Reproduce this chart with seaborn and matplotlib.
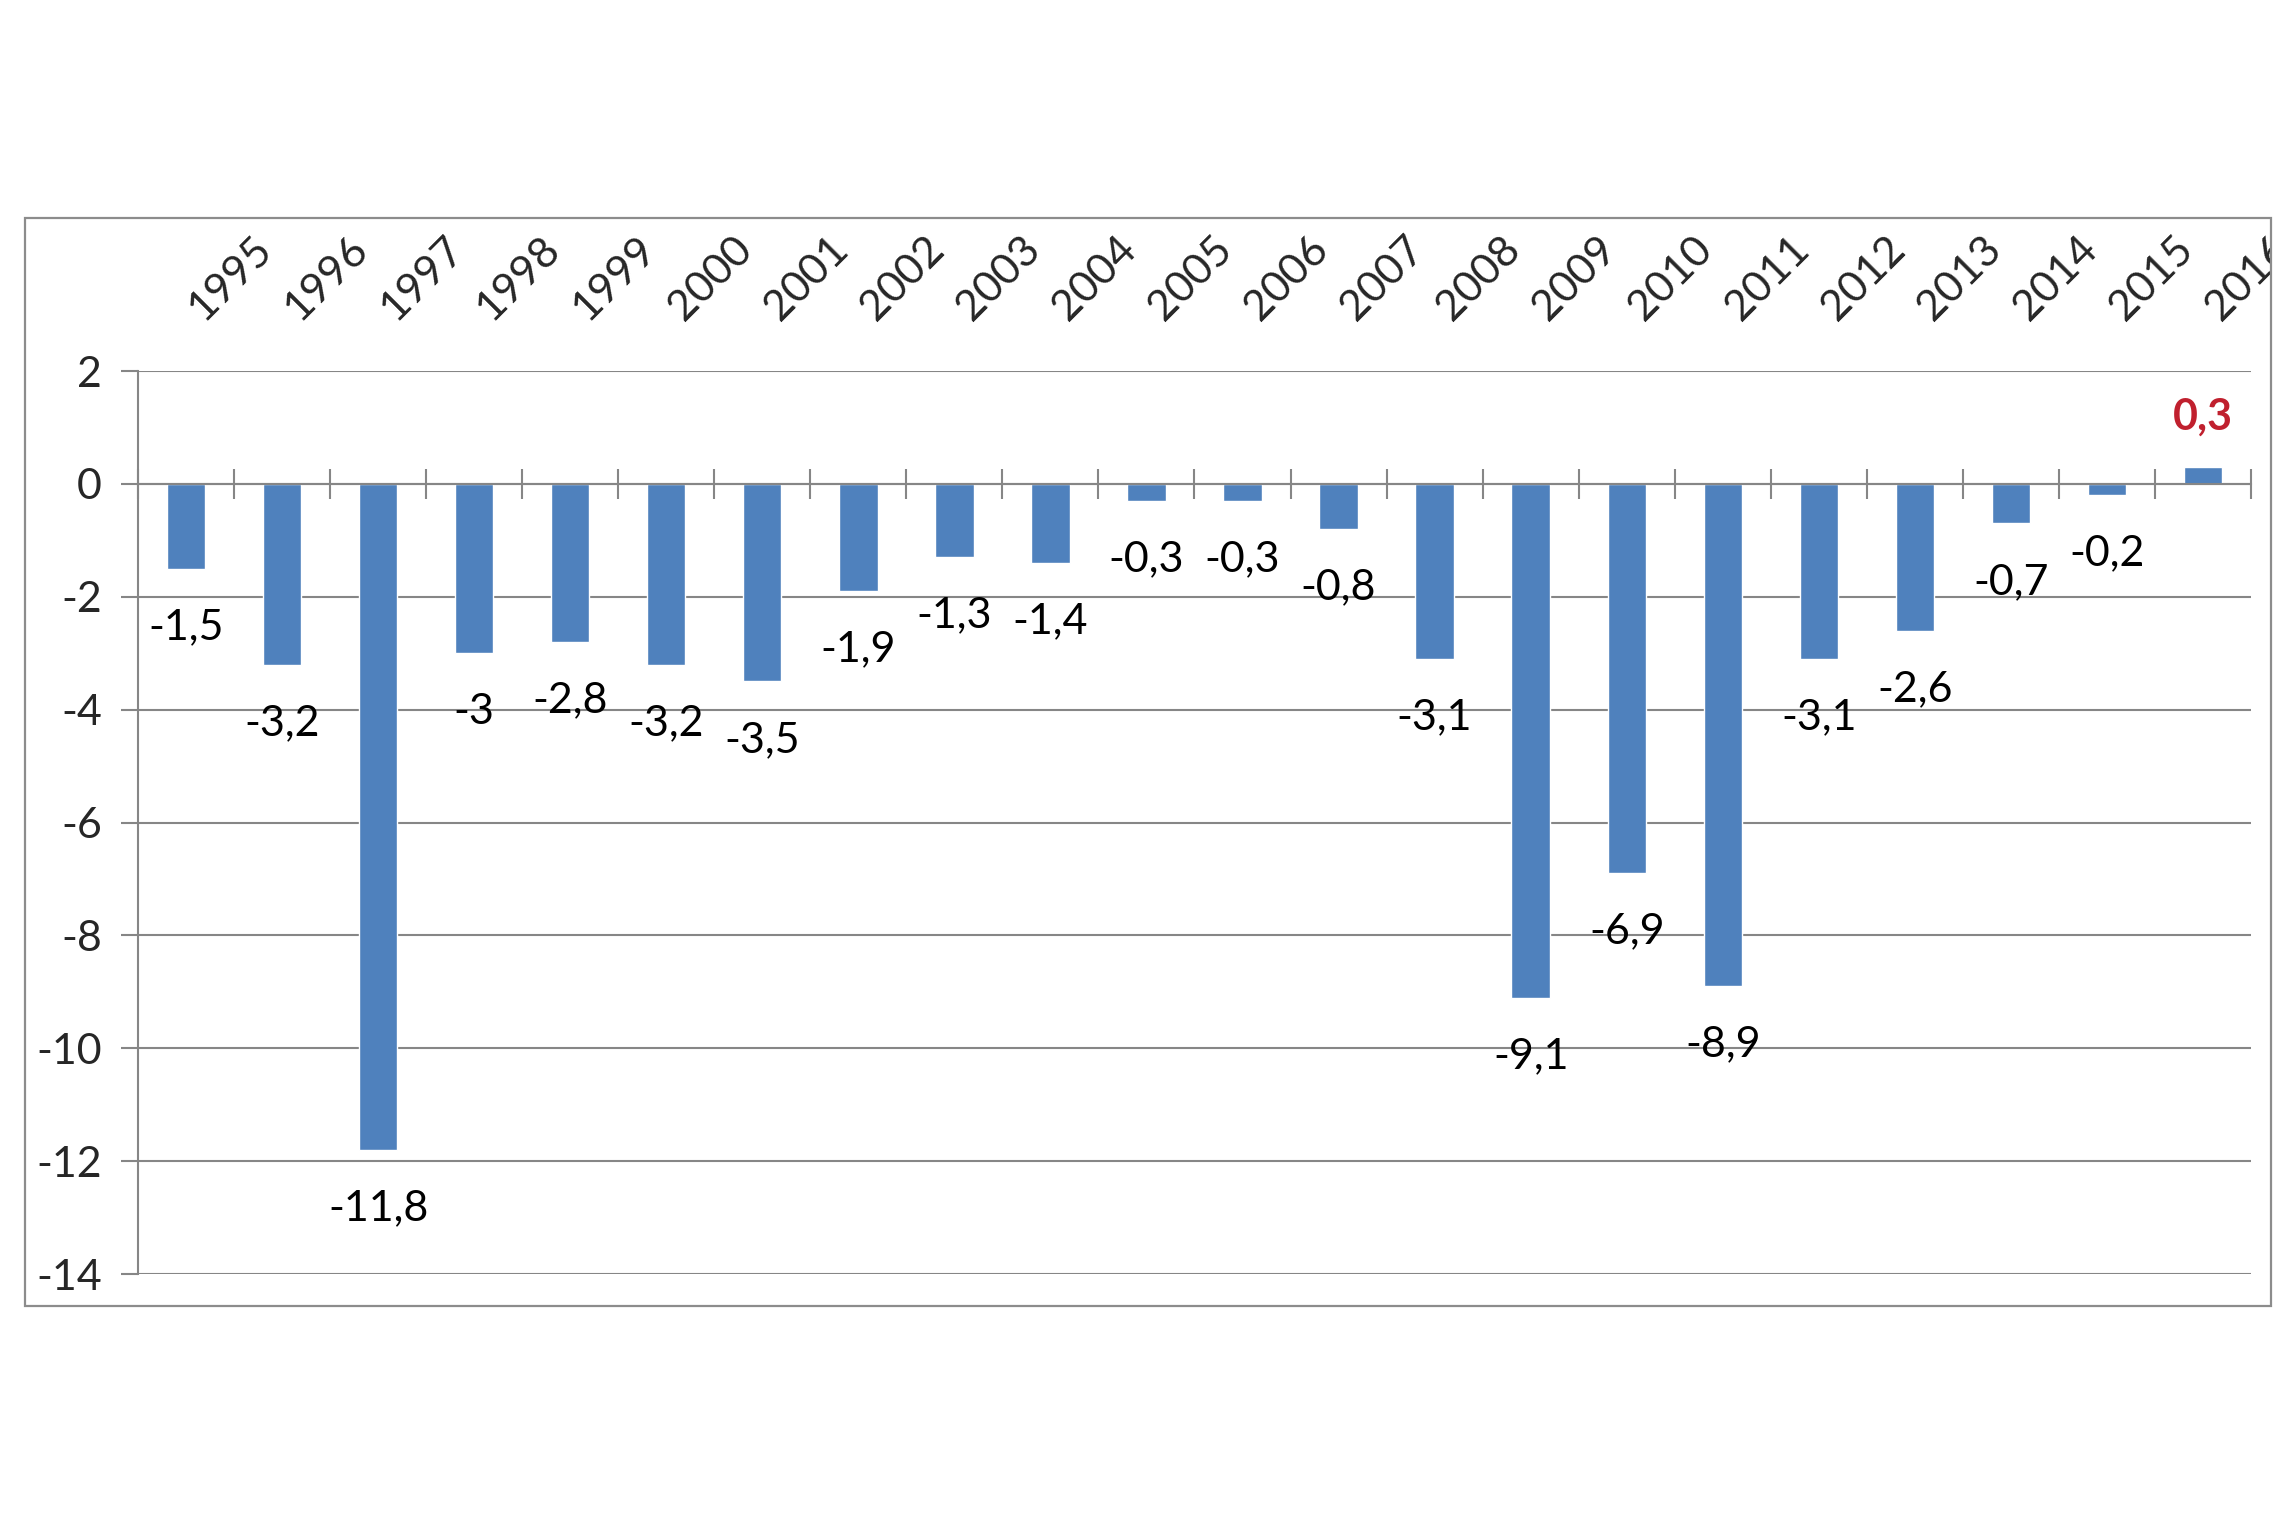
import numpy as np
import pandas as pd
import seaborn as sns
import matplotlib.pyplot as plt
from matplotlib.patches import Rectangle
from matplotlib.transforms import Bbox, TransformedBbox, ScaledTranslation
from matplotlib.ticker import FixedLocator


sns.set_style("white")
plt.rcParams["font.family"] = ["Lato", "DejaVu Sans"]

years = [str(y) for y in range(1995, 2017)]
values = [-1.5, -3.2, -11.8, -3.0, -2.8, -3.2, -3.5, -1.9, -1.3, -1.4, -0.3,
          -0.3, -0.8, -3.1, -9.1, -6.9, -8.9, -3.1, -2.6, -0.7, -0.2, 0.3]
yticks = list(range(-14, 3, 2))

bar_color = "#4F81BD"
grid_color = "#868686"
highlight = "#C0202E"
fs = 31


def fmt(v):
    # excel style decimal comma, plain hyphen for minus
    return f"{v:g}".replace(".", ",")


df = pd.DataFrame({"year": years, "value": values})

fig = plt.figure(figsize=(22.8, 15.2), dpi=100)
ax = fig.add_axes([0.0605, 0.1618, 0.9268, 0.5941])

sns.barplot(data=df, x="year", y="value", color=bar_color, saturation=1,
            width=0.4, ax=ax)

ax.set_xlim(-0.5, len(years) - 0.5)
ax.set_ylim(yticks[0], yticks[-1])
ax.set_yticks(yticks)
ax.set_yticklabels([fmt(t) for t in yticks])
ax.set_xlabel("")
ax.set_ylabel("")

# gridlines
ax.yaxis.grid(True, color=grid_color, linewidth=1.5)
ax.set_axisbelow(True)

# spines: left axis line, category axis on the zero line
for s in ["top", "right"]:
    ax.spines[s].set_visible(False)
ax.spines["left"].set_color(grid_color)
ax.spines["left"].set_linewidth(1.5)
ax.spines["bottom"].set_position(("data", 0))
ax.spines["bottom"].set_color(grid_color)
ax.spines["bottom"].set_linewidth(1.5)

# category boundary ticks crossing the zero line
ax.xaxis.set_minor_locator(FixedLocator(np.arange(len(years) + 1) - 0.5))
ax.tick_params(axis="x", which="minor", bottom=True, top=False,
               direction="inout", length=22, width=1.5, color=grid_color)
ax.tick_params(axis="x", which="major", bottom=False, top=False,
               labelbottom=False, labeltop=True, pad=28, labelsize=fs)
ax.tick_params(axis="y", which="major", left=True, direction="out",
               length=12, width=1.5, color=grid_color, labelsize=fs, pad=14)

# outer chart frame
frame = [0.011, 0.1408, 0.985, 0.7158]
fig.patches.append(Rectangle((frame[0], frame[1]), frame[2], frame[3],
                             transform=fig.transFigure, fill=False,
                             edgecolor="#8C8C8C", linewidth=1.6))
clip = TransformedBbox(Bbox.from_bounds(*frame), fig.transFigure)

shift = ScaledTranslation(-3 / 72, 0, fig.dpi_scale_trans)
for t in ax.xaxis.get_major_ticks():
    lab = t.label2
    lab.set_rotation(45)
    lab.set_ha("left")
    lab.set_va("bottom")
    lab.set_transform(lab.get_transform() + shift)
    lab.set_clip_box(clip)
    lab.set_clip_on(True)

# data labels
for i, v in enumerate(values):
    if v >= 0:
        ax.annotate(fmt(v), xy=(i, v), xytext=(0, 36), textcoords="offset points",
                    ha="center", va="center", fontsize=fs, color=highlight,
                    fontweight="bold")
    else:
        ax.annotate(fmt(v), xy=(i, v), xytext=(0, -42), textcoords="offset points",
                    ha="center", va="center", fontsize=fs, color="black")

fig.savefig("out.png", dpi=100, facecolor="white")
